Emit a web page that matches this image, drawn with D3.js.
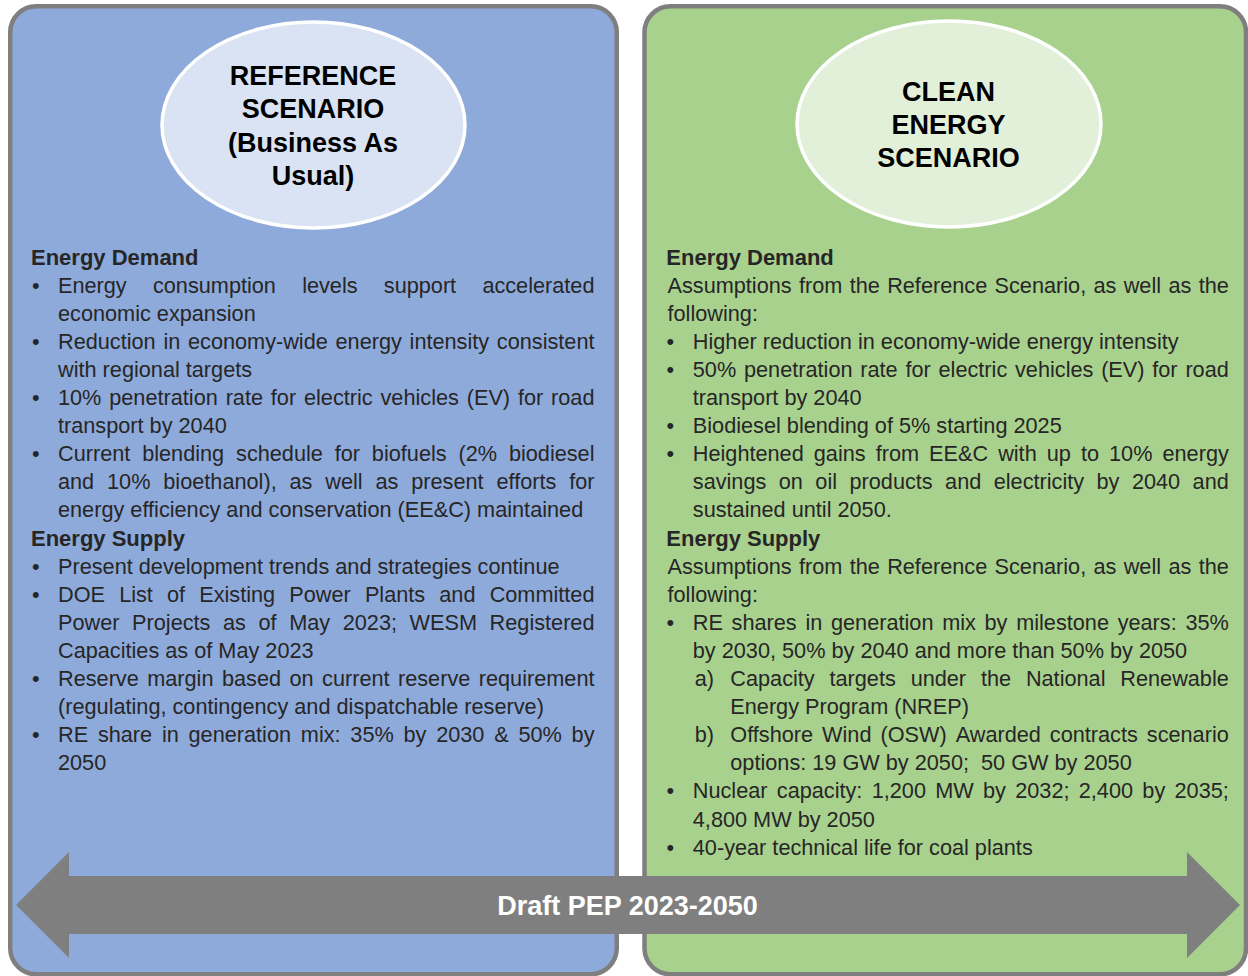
<!DOCTYPE html>
<html>
<head>
<meta charset="utf-8">
<script src="https://cdn.jsdelivr.net/npm/d3@7"></script>
<style>
  html, body { margin: 0; padding: 0; background: #ffffff; }
  svg text { white-space: pre; }
</style>
</head>
<body>
<svg id="chart" width="1248" height="976"></svg>
<script>
// ---------------- DATA ----------------
const scenarioTitles = [
  ["REFERENCE", "SCENARIO", "(Business As", "Usual)"],
  ["CLEAN", "ENERGY", "SCENARIO"]
];
const arrowLabel = "Draft PEP 2023-2050";

// type: h = heading, p = paragraph, b = bullet, s = sub item (label)
const referenceItems = [
  { type: "h", lines: ["Energy Demand"] },
  { type: "b", lines: ["Energy consumption levels support accelerated", "economic expansion"] },
  { type: "b", lines: ["Reduction in economy-wide energy intensity consistent", "with regional targets"] },
  { type: "b", lines: ["10% penetration rate for electric vehicles (EV) for road", "transport by 2040"] },
  { type: "b", lines: ["Current blending schedule for biofuels (2% biodiesel", "and 10% bioethanol), as well as present efforts for", "energy efficiency and conservation (EE&C) maintained"] },
  { type: "h", lines: ["Energy Supply"] },
  { type: "b", lines: ["Present development trends and strategies continue"] },
  { type: "b", lines: ["DOE List of Existing Power Plants and Committed", "Power Projects as of May 2023; WESM Registered", "Capacities as of May 2023"] },
  { type: "b", lines: ["Reserve margin based on current reserve requirement", "(regulating, contingency and dispatchable reserve)"] },
  { type: "b", lines: ["RE share in generation mix: 35% by 2030 & 50% by", "2050"] }
];

const cleanItems = [
  { type: "h", lines: ["Energy Demand"] },
  { type: "p", lines: ["Assumptions from the Reference Scenario, as well as the", "following:"] },
  { type: "b", lines: ["Higher reduction in economy-wide energy intensity"] },
  { type: "b", lines: ["50% penetration rate for electric vehicles (EV) for road", "transport by 2040"] },
  { type: "b", lines: ["Biodiesel blending of 5% starting 2025"] },
  { type: "b", lines: ["Heightened gains from EE&C with up to 10% energy", "savings on oil products and electricity by 2040 and", "sustained until 2050."] },
  { type: "h", lines: ["Energy Supply"] },
  { type: "p", lines: ["Assumptions from the Reference Scenario, as well as the", "following:"] },
  { type: "b", lines: ["RE shares in generation mix by milestone years: 35%", "by 2030, 50% by 2040 and more than 50% by 2050"] },
  { type: "s", label: "a)", lines: ["Capacity targets under the National Renewable", "Energy Program (NREP)"] },
  { type: "s", label: "b)", lines: ["Offshore Wind (OSW) Awarded contracts scenario", "options: 19 GW by 2050;  50 GW by 2050"] },
  { type: "b", lines: ["Nuclear capacity: 1,200 MW by 2032; 2,400 by 2035;", "4,800 MW by 2050"] },
  { type: "b", lines: ["40-year technical life for coal plants"] }
];

// ---------------- STYLE / LAYOUT ----------------
const FONT = "'Liberation Sans', Arial, Helvetica, sans-serif";
const BORDER = "#7f7f7f";
const TEXT = "#262626";

const panels = [
  { x: 10.25, y: 6.25, w: 606.5, h: 968, fill: "#8eaadb", ell: { cx: 313.5, cy: 125, rx: 151.5, ry: 103, fill: "#dae3f3" }, titleY0: 75, titleStep: 33.5, titleX: 313 },
  { x: 644.5, y: 6.25, w: 601.5, h: 968, fill: "#a9d18e", ell: { cx: 949, cy: 124, rx: 152, ry: 103, fill: "#e2f0d9" }, titleY0: 91, titleStep: 33, titleX: 948.5 }
];

const columns = [
  { items: referenceItems, headX: 31, paraX: 32, bulletX: 32, textX: 58, subLabelX: 60, subTextX: 95, right: 594.5, y0: 257, step: 28.1 },
  { items: cleanItems, headX: 666.3, paraX: 667.5, bulletX: 666.5, textX: 692.8, subLabelX: 694.8, subTextX: 730.3, right: 1228.8, y0: 257, step: 28.1 }
];

const svg = d3.select("#chart");

// panels
panels.forEach(p => {
  svg.append("rect")
    .attr("x", p.x).attr("y", p.y)
    .attr("width", p.w).attr("height", p.h)
    .attr("rx", 26).attr("ry", 26)
    .attr("fill", p.fill)
    .attr("stroke", BORDER).attr("stroke-width", 4.5);
});

// ellipses and titles
panels.forEach((p, i) => {
  svg.append("ellipse")
    .attr("cx", p.ell.cx).attr("cy", p.ell.cy)
    .attr("rx", p.ell.rx).attr("ry", p.ell.ry)
    .attr("fill", p.ell.fill)
    .attr("stroke", "#ffffff").attr("stroke-width", 3.5);
  svg.append("g").selectAll("text")
    .data(scenarioTitles[i])
    .join("text")
    .attr("x", p.titleX)
    .attr("y", (d, k) => p.titleY0 + k * p.titleStep)
    .attr("dy", "0.36em")
    .attr("text-anchor", "middle")
    .attr("font-family", FONT)
    .attr("font-weight", "bold")
    .attr("font-size", 27)
    .attr("fill", "#000000")
    .text(d => d);
});

// text columns
const FS = 21.7;
const FSH = 22;
function measure(str) {
  const t = svg.append("text")
    .attr("font-family", FONT).attr("font-size", FS)
    .text(str);
  const w = t.node().getComputedTextLength();
  t.remove();
  return w;
}

function drawLine(g, str, x, y, right, justify) {
  const t = g.append("text")
    .attr("y", y).attr("dy", "0.35em")
    .attr("font-family", FONT).attr("font-size", FS)
    .attr("fill", TEXT);
  if (!justify) {
    t.attr("x", x).text(str);
    return;
  }
  const words = str.split(/\s+/);
  const widths = words.map(w => measure(w));
  const total = d3.sum(widths);
  const gap = (right - x - total) / (words.length - 1);
  let cx = x;
  words.forEach((w, k) => {
    t.append("tspan").attr("x", cx).text(w);
    cx += widths[k] + gap;
  });
}

columns.forEach(col => {
  const g = svg.append("g");
  let row = 0;
  col.items.forEach(item => {
    const y = r => col.y0 + r * col.step;
    if (item.type === "h") {
      g.append("text")
        .attr("x", col.headX).attr("y", y(row)).attr("dy", "0.35em")
        .attr("font-family", FONT).attr("font-size", FSH)
        .attr("font-weight", "bold").attr("fill", TEXT)
        .text(item.lines[0]);
      row += 1;
      return;
    }
    let tx = col.paraX;
    if (item.type === "b") {
      tx = col.textX;
      g.append("text")
        .attr("x", col.bulletX).attr("y", y(row)).attr("dy", "0.35em")
        .attr("font-family", FONT).attr("font-size", FS).attr("fill", TEXT)
        .text("\u2022");
    } else if (item.type === "s") {
      tx = col.subTextX;
      g.append("text")
        .attr("x", col.subLabelX).attr("y", y(row)).attr("dy", "0.35em")
        .attr("font-family", FONT).attr("font-size", FS).attr("fill", TEXT)
        .text(item.label);
    }
    item.lines.forEach((ln, k) => {
      const justify = k < item.lines.length - 1;
      drawLine(g, ln, tx, y(row), col.right, justify);
      row += 1;
    });
  });
});

// double arrow
const ar = { left: 16, right: 1240, cy: 905, headW: 53, headH: 53, shaftH: 29 };
const arrowPts = [
  [ar.left, ar.cy],
  [ar.left + ar.headW, ar.cy - ar.headH],
  [ar.left + ar.headW, ar.cy - ar.shaftH],
  [ar.right - ar.headW, ar.cy - ar.shaftH],
  [ar.right - ar.headW, ar.cy - ar.headH],
  [ar.right, ar.cy],
  [ar.right - ar.headW, ar.cy + ar.headH],
  [ar.right - ar.headW, ar.cy + ar.shaftH],
  [ar.left + ar.headW, ar.cy + ar.shaftH],
  [ar.left + ar.headW, ar.cy + ar.headH]
];
svg.append("path")
  .attr("d", d3.line()(arrowPts) + "Z")
  .attr("fill", "#7f7f7f");
svg.append("text")
  .attr("x", 627.5).attr("y", ar.cy).attr("dy", "0.36em")
  .attr("text-anchor", "middle")
  .attr("font-family", FONT).attr("font-weight", "bold").attr("font-size", 27)
  .attr("fill", "#ffffff")
  .text(arrowLabel);
</script>
</body>
</html>
